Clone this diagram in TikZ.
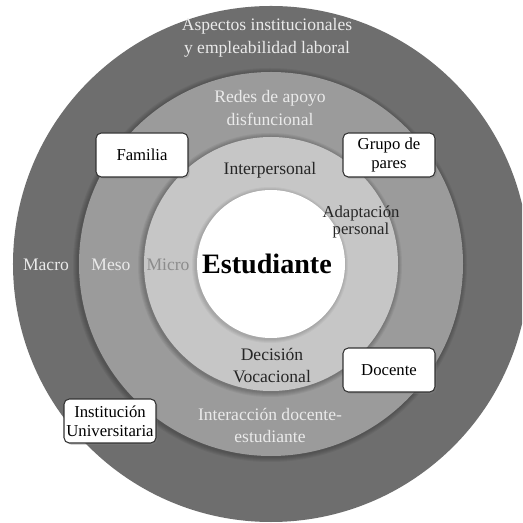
\documentclass[tikz,border=0pt]{standalone}
\usepackage{fontspec}
\setmainfont{Liberation Serif}
\usetikzlibrary{shadows}
\definecolor{macrogray}{HTML}{6E6E6E}
\definecolor{mesogray}{HTML}{9B9B9B}
\definecolor{microgray}{HTML}{C6C6C6}
\definecolor{palegray}{HTML}{EAEAEA}

\begin{document}
\begin{tikzpicture}[x=0.02cm,y=0.02cm,
  lighttext/.style={text=palegray,align=center,font=\fontsize{10}{13}\selectfont},
  darktext/.style={text=black!85,align=center,font=\fontsize{10}{12.5}\selectfont},
  actorbox/.style={draw=black!80,fill=white,rounded corners=3pt,line width=0.6pt,
    minimum width=1.84cm,minimum height=0.88cm,align=center,inner sep=1pt,
    font=\fontsize{9.5}{11}\selectfont,
    drop shadow={opacity=0.35,shadow xshift=1pt,shadow yshift=-1pt}}]
\useasboundingbox (-271,-259) rectangle (251,264);
\begin{scope}
\clip (-271,-259) rectangle (251,264);
\fill[macrogray] (0,0) circle (258);
% soft shadow round each inner ring
\foreach \d in {1,...,5} \fill[black,opacity=0.05] (-1,-1) circle (192+\d);
\fill[mesogray] (0,0) circle (192);
\foreach \d in {1,...,5} \fill[black,opacity=0.05] (-1,-1) circle (127+\d);
\fill[microgray] (0,0) circle (127);
\foreach \d in {1,...,4} \fill[black,opacity=0.04] (-1,-1) circle (74+\d);
\fill[white] (0,0) circle (74);
\end{scope}
% levels
\node[lighttext] (macro) at (-225,-1) {Macro};
\node[lighttext] (meso) at (-160,-1) {Meso};
\node[lighttext,text=black!45] (micro) at (-103,-1) {Micro};
\node[font=\fontsize{16}{19}\selectfont\bfseries] (est) at (-4,0) {Estudiante};
% ring labels
\node[lighttext] (asp) at (-4,226) {Aspectos institucionales\\y empleabilidad laboral};
\node[lighttext] (redes) at (-1,156) {Redes de apoyo\\disfuncional};
\node[darktext] (inter) at (-1,94) {Interpersonal};
\node[darktext,font=\fontsize{9.5}{9.8}\selectfont] (adap) at (90,42) {Adaptación\\personal};
\node[darktext] (dec) at (1,-102) {Decisión\\Vocacional};
\node[lighttext,font=\fontsize{10}{12.5}\selectfont] (inter2) at (-1,-161) {Interacción docente-\\estudiante};
% actors
\node[actorbox] (fam) at (-129,109) {Familia};
\node[actorbox] (grupo) at (118,109) {Grupo de\\pares};
\node[actorbox] (doc) at (118,-106) {Docente};
\node[actorbox] (inst) at (-161,-157) {Institución\\Universitaria};
\end{tikzpicture}
\end{document}
